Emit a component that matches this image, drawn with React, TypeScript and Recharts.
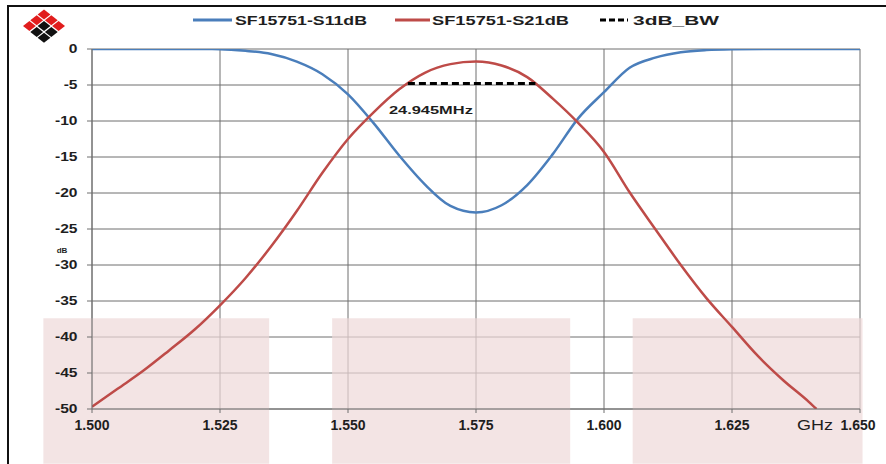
import React from 'react';
import { LineChart, Line, XAxis, YAxis, CartesianGrid, ReferenceArea, Legend } from 'recharts';

// S11 trace (GHz, dB)
const s11Freq = [
  1.5, 1.51, 1.52, 1.525, 1.53, 1.535, 1.54, 1.545, 1.55, 1.555, 1.56, 1.565, 1.57, 1.575,
  1.58, 1.585, 1.59, 1.595, 1.6, 1.605, 1.61, 1.615, 1.62, 1.625, 1.635, 1.65,
];
const s11Db = [
  0, 0, 0, -0.02, -0.25, -0.7, -1.75, -3.5, -6.3, -10.3, -14.8, -18.8, -21.8, -22.7,
  -21.7, -18.9, -14.6, -9.6, -6.0, -2.6, -1.2, -0.45, -0.15, -0.05, 0, 0,
];

// S21 trace (GHz, dB)
const s21Freq = [
  1.5, 1.505, 1.51, 1.515, 1.52, 1.525, 1.53, 1.535, 1.54, 1.545, 1.55, 1.555, 1.56, 1.565,
  1.57, 1.575, 1.58, 1.585, 1.59, 1.595, 1.6, 1.605, 1.61, 1.615, 1.62, 1.625, 1.63, 1.635,
  1.64, 1.6415,
];
const s21Db = [
  -49.7, -47.2, -44.7, -41.9, -39.0, -35.6, -31.8, -27.4, -22.5, -17.2, -12.5, -8.8, -5.6, -3.3,
  -2.1, -1.75, -2.3, -3.9, -6.9, -10.3, -14.3, -19.9, -25.0, -30.0, -34.6, -38.6, -42.6, -46.0,
  -49.0, -50,
];

// 3 dB bandwidth marker
const bwFreq = [1.5617, 1.5866];
const bwDb = [-4.8, -4.8];
const bwText = '24.945MHz';

// shaded rejection zones
const maskStart = [1.4905, 1.5469, 1.6056];
const maskEnd = [1.5346, 1.5934, 1.6505];
const maskTop = -37.4;
const maskBottom = -57.6;

const xTicks = [1.5, 1.525, 1.55, 1.575, 1.6, 1.625, 1.65];
const yTicks = [0, -5, -10, -15, -20, -25, -30, -35, -40, -45, -50];

const s11Data = s11Freq.map((f, i) => ({ f, v: s11Db[i] }));
const s21Data = s21Freq.map((f, i) => ({ f, v: s21Db[i] }));
const bwData = bwFreq.map((f, i) => ({ f, v: bwDb[i] }));

const FONT = '"Liberation Sans", Arial, sans-serif';
const INK = '#1e1e1e';
const GRID = '#6e6e6e';

const legendSlots: Record<string, { x1: number; x2: number; tx: number; tw: number; dash?: string }> = {
  'SF15751-S11dB': { x1: 193, x2: 232, tx: 235, tw: 132 },
  'SF15751-S21dB': { x1: 395, x2: 430, tx: 432, tw: 137 },
  '3dB_BW': { x1: 600, x2: 628, tx: 633, tw: 86, dash: '6 3' },
};

function LegendRow({ payload }: { payload?: Array<{ value: string; color: string }> }) {
  return (
    <svg width={886} height={40}>
      {(payload || []).map((p) => {
        const s = legendSlots[p.value];
        if (!s) return null;
        return (
          <g key={p.value}>
            <line x1={s.x1} x2={s.x2} y1={20} y2={20} stroke={p.color} strokeWidth={3} strokeDasharray={s.dash} />
            <text
              x={s.tx}
              y={24.5}
              textLength={s.tw}
              lengthAdjust="spacingAndGlyphs"
              fontFamily={FONT}
              fontSize={13}
              fontWeight="bold"
              fill={INK}
            >
              {p.value}
            </text>
          </g>
        );
      })}
    </svg>
  );
}

function FreqTick({ x, y, payload }: any) {
  const last = payload.value === xTicks[xTicks.length - 1];
  return (
    <g>
      <text x={last ? x - 2 : x} y={y + 15} textAnchor="middle" fontFamily={FONT} fontSize={14} fontWeight="bold" fill={INK}>
        {Number(payload.value).toFixed(3)}
      </text>
      {last && (
        <text x={x - 63} y={y + 15} textLength={36} lengthAdjust="spacingAndGlyphs" fontFamily={FONT} fontSize={14} fill={INK}>
          GHz
        </text>
      )}
    </g>
  );
}

function DbTick({ x, y, payload }: any) {
  return (
    <g transform={`translate(${x - 7.5},${y})`}>
      <text transform="scale(1.3,1)" textAnchor="end" dy="0.36em" fontFamily={FONT} fontSize={12} fontWeight="bold" fill={INK}>
        {payload.value}
      </text>
    </g>
  );
}

function UnitLabel({ viewBox }: any) {
  const vb = viewBox || { x: 0, y: 49, width: 92, height: 360 };
  return (
    <text
      x={vb.x + vb.width - 30}
      y={vb.y + vb.height * 0.558 + 3}
      textAnchor="middle"
      fontFamily={FONT}
      fontSize={8}
      fontWeight="bold"
      fill={INK}
    >
      dB
    </text>
  );
}

function BwLabel(props: any) {
  if (props.index !== 0) return <g />;
  return (
    <text
      x={props.x - 19}
      y={props.y + 30}
      textLength={84}
      lengthAdjust="spacingAndGlyphs"
      fontFamily={FONT}
      fontSize={11}
      fontWeight="bold"
      fill={INK}
    >
      {bwText}
    </text>
  );
}

function Logo() {
  const cells: Array<{ cx: number; cy: number; red: boolean }> = [];
  for (let i = 0; i < 3; i++) {
    for (let j = 0; j < 3; j++) {
      const r = i + j;
      const red = r < 2 || (r === 2 && i !== 1);
      cells.push({ cx: 22 + (j - i) * 7.3, cy: 5.5 + r * 5.8, red });
    }
  }
  return (
    <svg width={46} height={36} style={{ position: 'absolute', left: 22, top: 9 }}>
      {cells.map((c, k) => (
        <polygon
          key={k}
          points={`${c.cx},${c.cy - 5} ${c.cx + 6.4},${c.cy} ${c.cx},${c.cy + 5} ${c.cx - 6.4},${c.cy}`}
          fill={c.red ? '#e11d1d' : '#111'}
        />
      ))}
    </svg>
  );
}

export default function App() {
  return (
    <div style={{ position: 'absolute', left: 0, top: 0, width: 886, height: 464, overflow: 'hidden', background: '#fff' }}>
      <LineChart width={886} height={464} margin={{ top: 49, right: 26, bottom: 25, left: 0 }}>
        <CartesianGrid stroke={GRID} strokeWidth={1} />
        {maskStart.map((x1, i) => (
          <ReferenceArea
            key={i}
            x1={x1}
            x2={maskEnd[i]}
            y1={maskTop}
            y2={maskBottom}
            fill="#eed8d8"
            fillOpacity={0.7}
            stroke="none"
            ifOverflow="visible"
          />
        ))}
        <XAxis
          type="number"
          dataKey="f"
          domain={[1.5, 1.65]}
          allowDataOverflow
          ticks={xTicks}
          height={30}
          tickSize={4}
          stroke={GRID}
          tick={<FreqTick />}
          interval={0}
        />
        <YAxis
          type="number"
          dataKey="v"
          domain={[-50, 0]}
          allowDataOverflow
          ticks={yTicks}
          width={92}
          tickSize={5}
          stroke={GRID}
          tick={<DbTick />}
          interval={0}
          label={<UnitLabel />}
        />
        <Legend
          layout="horizontal"
          verticalAlign="middle"
          align="center"
          wrapperStyle={{ top: 0, left: 0, width: 886, height: 40 }}
          content={<LegendRow />}
        />
        <Line
          data={s11Data}
          dataKey="v"
          name="SF15751-S11dB"
          type="monotone"
          stroke="#4a7ebb"
          strokeWidth={2.5}
          dot={false}
          isAnimationActive={false}
        />
        <Line
          data={s21Data}
          dataKey="v"
          name="SF15751-S21dB"
          type="monotone"
          stroke="#be4b48"
          strokeWidth={2.5}
          dot={false}
          isAnimationActive={false}
        />
        <Line
          data={bwData}
          dataKey="v"
          name="3dB_BW"
          type="linear"
          stroke="#000"
          strokeWidth={3}
          strokeDasharray="7 4"
          dot={false}
          isAnimationActive={false}
          label={BwLabel}
        />
      </LineChart>
      <div style={{ position: 'absolute', left: 7, top: 5, width: 879, height: 2, background: '#111', zIndex: 5 }} />
      <div style={{ position: 'absolute', left: 7, top: 5, width: 2, height: 459, background: '#111', zIndex: 5 }} />
      <Logo />
    </div>
  );
}
